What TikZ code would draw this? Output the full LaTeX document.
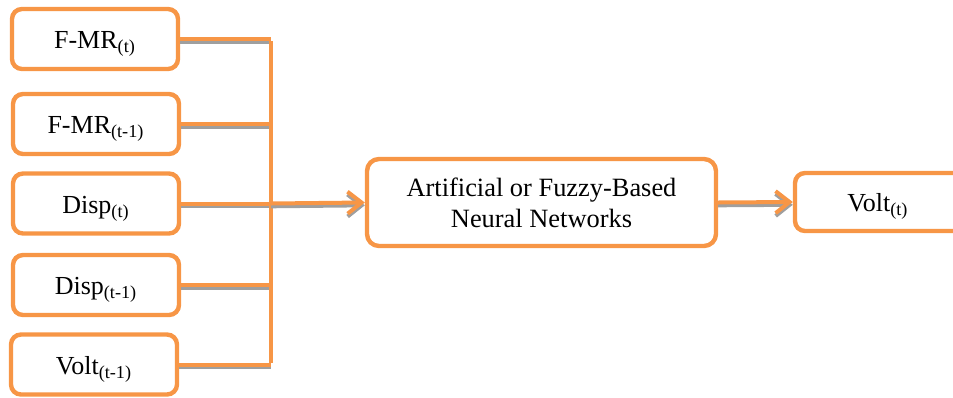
\documentclass[tikz,border=0pt]{standalone}
\usepackage{fontspec}
\setmainfont{Liberation Serif}
\usetikzlibrary{arrows.meta}
\definecolor{boxorange}{RGB}{247,150,70}
\begin{document}
\begin{tikzpicture}[x=0.5pt, y=-0.5pt,
inputnode/.style={rectangle, rounded corners=5pt, draw=boxorange, fill=white, line width=2.2pt, minimum width=83pt, minimum height=30pt, text height=12pt, text depth=2.5pt, font=\fontsize{13}{15.5}\selectfont},
netnode/.style={rectangle, rounded corners=6pt, draw=boxorange, fill=white, line width=2.2pt, minimum width=174.5pt, minimum height=43.5pt, align=center, font=\fontsize{13.2}{15.5}\selectfont},
conn/.style={draw=boxorange, line width=2pt, preaction={draw=gray!75, line width=2pt, transform canvas={yshift=-1.4pt}}},
tip/.style={-{Straight Barb[length=7pt, width=11pt]}},
]
\clip (0,0) rectangle (953,397);
%Nodes
\node[inputnode] (fmr1)  at (95,39)    {F-MR\textsubscript{(t)}};
\node[inputnode] (fmr2)  at (96,124)   {F-MR\textsubscript{(t-1)}};
\node[inputnode] (disp1) at (96,203.5) {Disp\textsubscript{(t)}};
\node[inputnode] (disp2) at (96,285)   {Disp\textsubscript{(t-1)}};
\node[inputnode] (volt2) at (94,364.5) {Volt\textsubscript{(t-1)}};
\node[netnode]   (net)   at (541.5,202.5) {Artificial or Fuzzy-Based\\Neural Networks};
\node[inputnode, minimum width=90pt, minimum height=29pt] (volt1) at (885,202) {\hspace*{-3.5pt}Volt\textsubscript{(t)}\hspace*{3.5pt}};
\coordinate (bus) at (271,0);

%Lines
\draw[conn] (fmr1.east) -- (fmr1.east -| bus);
\draw[conn] (fmr2.east) -- (fmr2.east -| bus);
\draw[conn] (disp1.east) -- (disp1.east -| bus);
\draw[conn] (disp2.east) -- (disp2.east -| bus);
\draw[conn] (volt2.east) -- (volt2.east -| bus);
\draw[draw=boxorange, line width=2pt] ([yshift=-1pt]fmr1.east -| bus) -- ([yshift=1pt]volt2.east -| bus);
\draw[conn, tip] (disp1.east -| bus) -- (net.west);
\draw[conn, tip] (net.east) -- (volt1.west);
\end{tikzpicture}
\end{document}
